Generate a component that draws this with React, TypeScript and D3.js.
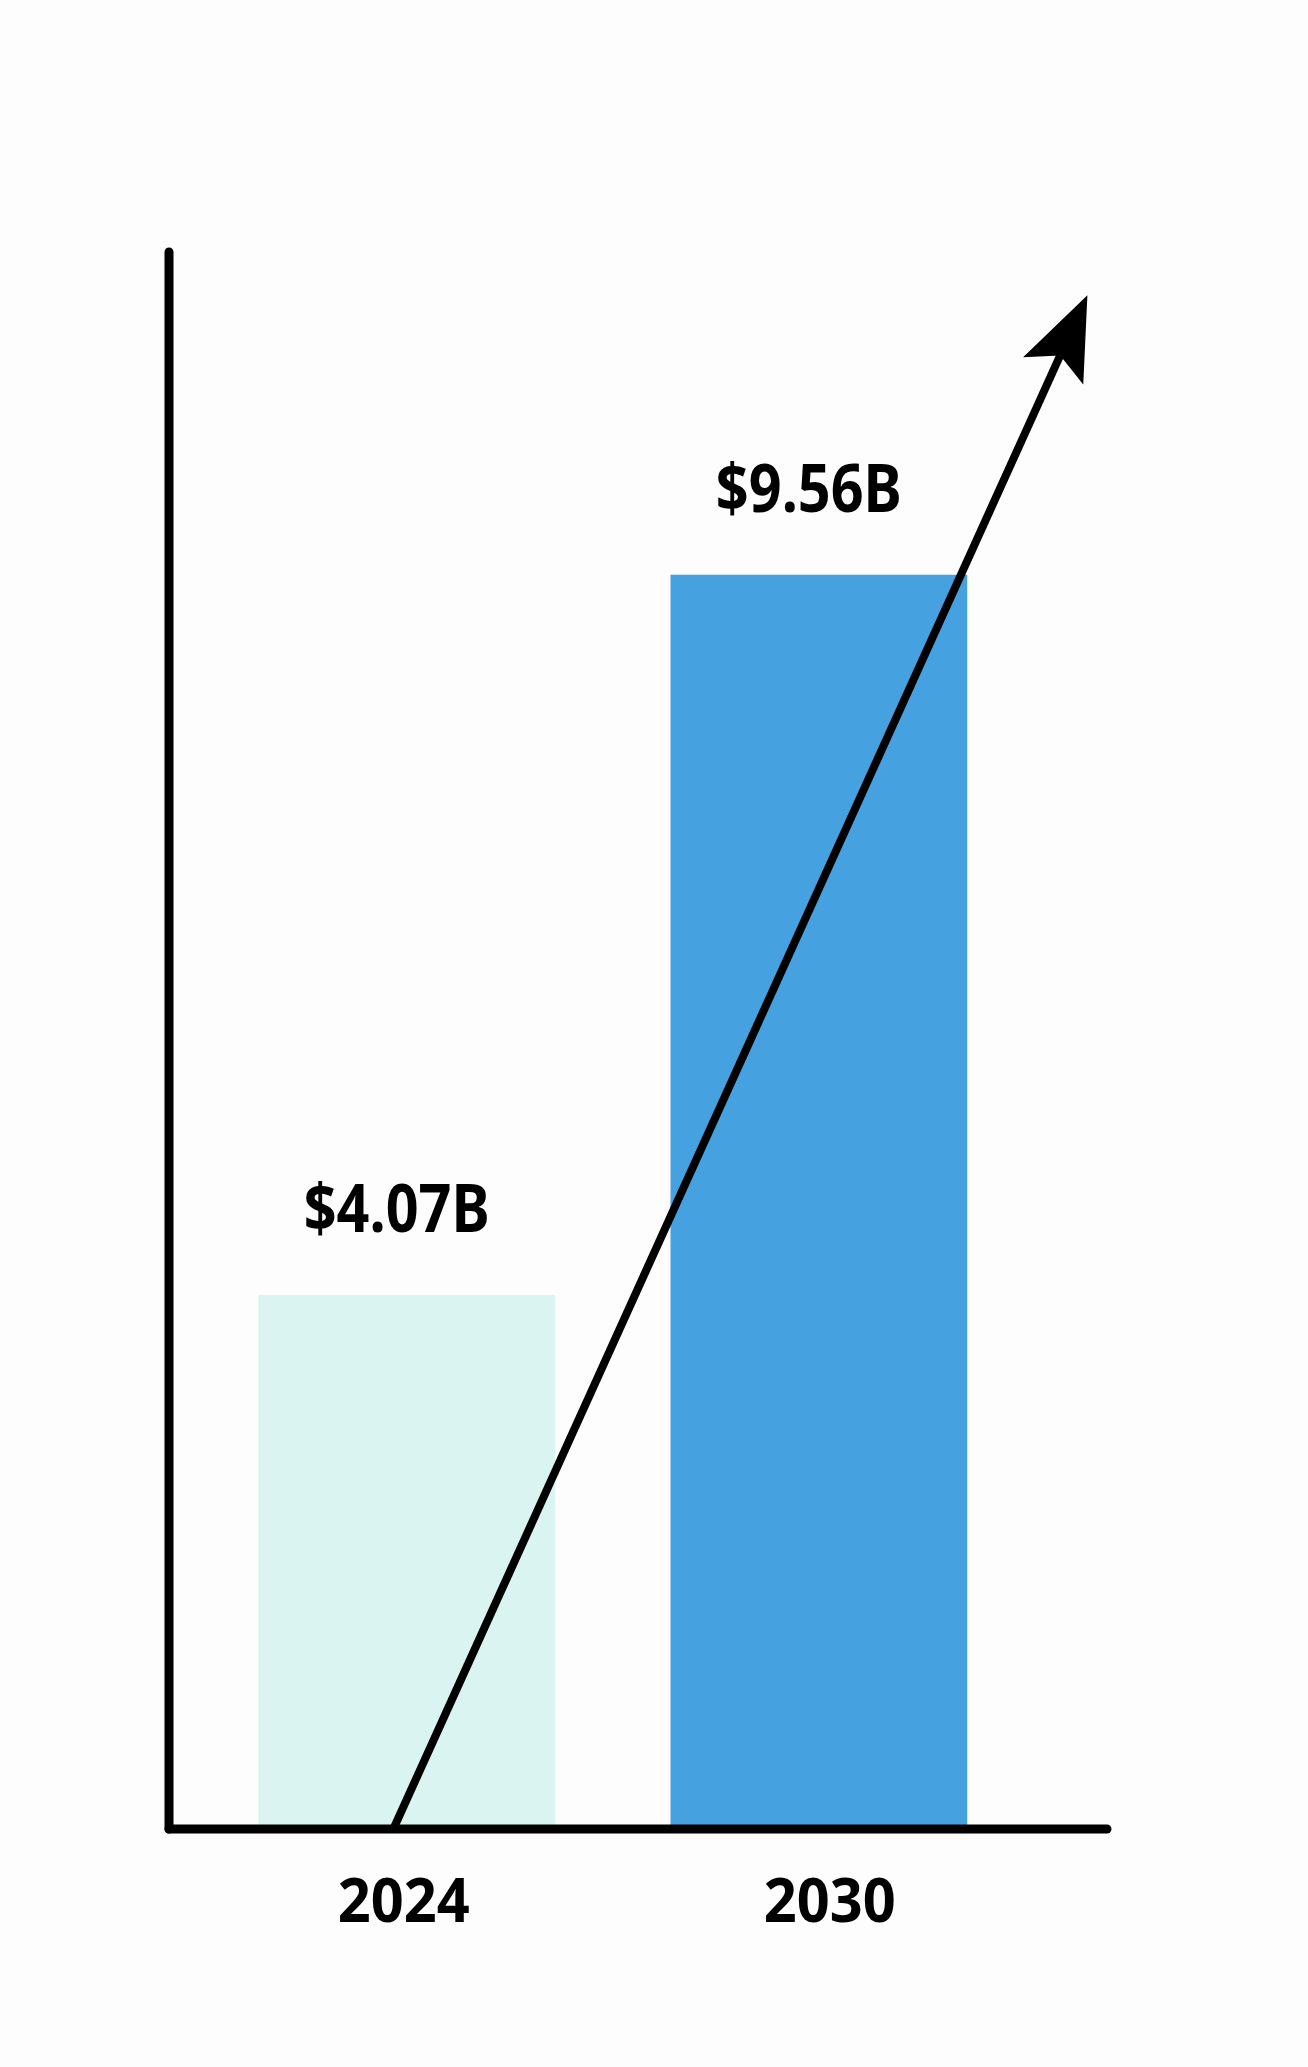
import React, { useEffect, useRef } from 'react';
import * as d3 from 'd3';

// data
const years = ['2024', '2030'];
const values = [4.07, 9.56];
const valueLabels = ['$4.07B', '$9.56B'];
const barColors = ['#daf4f1', '#46a1e0'];
const axisMax = 12.02;
// growth arrow: from the baseline under 2024 to above the 2030 bar
const arrowFrom = { year: '2024', offset: 0.455, value: 0 };
const arrowTo = { year: '2030', offset: 1.405, value: 11.69 };

const W = 1308;
const H = 2067;

const App = () => {
  const svgRef = useRef(null);

  useEffect(() => {
    document.body.style.margin = '0';
    const svg = d3.select(svgRef.current);
    svg.selectAll('*').remove();

    const left = 169, right = 1107, top = 252, bottom = 1829;

    const x = d3.scaleBand()
      .domain(years)
      .range([left, right])
      .paddingInner(0.28)
      .paddingOuter(0.278)
      .align(0.39);

    const y = d3.scaleLinear()
      .domain([0, axisMax])
      .range([bottom, top]);

    svg.append('rect')
      .attr('width', W).attr('height', H)
      .attr('fill', '#fdfdfd');

    // bars
    svg.selectAll('.bar')
      .data(values)
      .enter()
      .append('rect')
      .attr('x', (d, i) => x(years[i]))
      .attr('y', d => y(d))
      .attr('width', x.bandwidth())
      .attr('height', d => y(0) - y(d))
      .attr('fill', (d, i) => barColors[i]);

    // value labels
    const labelFont = "'Noto Sans', 'DejaVu Sans', sans-serif";
    svg.selectAll('.val')
      .data(values)
      .enter()
      .append('text')
      .attr('x', (d, i) => x(years[i]) + x.bandwidth() / 2 - 10)
      .attr('y', d => y(d) - 63)
      .attr('text-anchor', 'middle')
      .attr('font-family', labelFont)
      .attr('font-weight', 'bold')
      .attr('font-size', 67)
      .attr('textLength', 186)
      .attr('lengthAdjust', 'spacingAndGlyphs')
      .attr('fill', '#000')
      .text((d, i) => valueLabels[i]);

    // year labels
    svg.selectAll('.year')
      .data(years)
      .enter()
      .append('text')
      .attr('x', (d, i) => x(d) + x.bandwidth() / 2 + (i === 0 ? -3 : 11))
      .attr('y', 1922)
      .attr('text-anchor', 'middle')
      .attr('font-family', labelFont)
      .attr('font-weight', 'bold')
      .attr('font-size', 61)
      .attr('textLength', 132)
      .attr('lengthAdjust', 'spacingAndGlyphs')
      .attr('fill', '#000')
      .text(d => d);

    // axes
    svg.append('line')
      .attr('x1', left).attr('y1', top)
      .attr('x2', left).attr('y2', bottom)
      .attr('stroke', '#000').attr('stroke-width', 9)
      .attr('stroke-linecap', 'round');
    svg.append('line')
      .attr('x1', left).attr('y1', bottom)
      .attr('x2', right).attr('y2', bottom)
      .attr('stroke', '#000').attr('stroke-width', 9)
      .attr('stroke-linecap', 'round');

    // arrow
    const p0 = [x(arrowFrom.year) + arrowFrom.offset * x.bandwidth(), y(arrowFrom.value)];
    const p1 = [x(arrowTo.year) + arrowTo.offset * x.bandwidth(), y(arrowTo.value)];
    const dx = p1[0] - p0[0], dy = p1[1] - p0[1];
    const len = Math.hypot(dx, dy);
    const u = [dx / len, dy / len];
    const n = [-u[1], u[0]];
    const pt = (a, b) => [p1[0] + u[0] * a + n[0] * b, p1[1] + u[1] * a + n[1] * b];
    const notch = pt(-66, 0);

    svg.append('path')
      .attr('d', d3.line()([p0, notch]))
      .attr('stroke', '#000')
      .attr('stroke-width', 8)
      .attr('fill', 'none');

    svg.append('path')
      .attr('d', d3.line().curve(d3.curveLinearClosed)([pt(0, 0), pt(-83, -33), notch, pt(-83, 33)]))
      .attr('fill', '#000');
  }, []);

  return (
    <div style={{ position: 'absolute', left: 0, top: 0 }}>
      <svg ref={svgRef} width={W} height={H} style={{ display: 'block' }}></svg>
    </div>
  );
};

export default App;
